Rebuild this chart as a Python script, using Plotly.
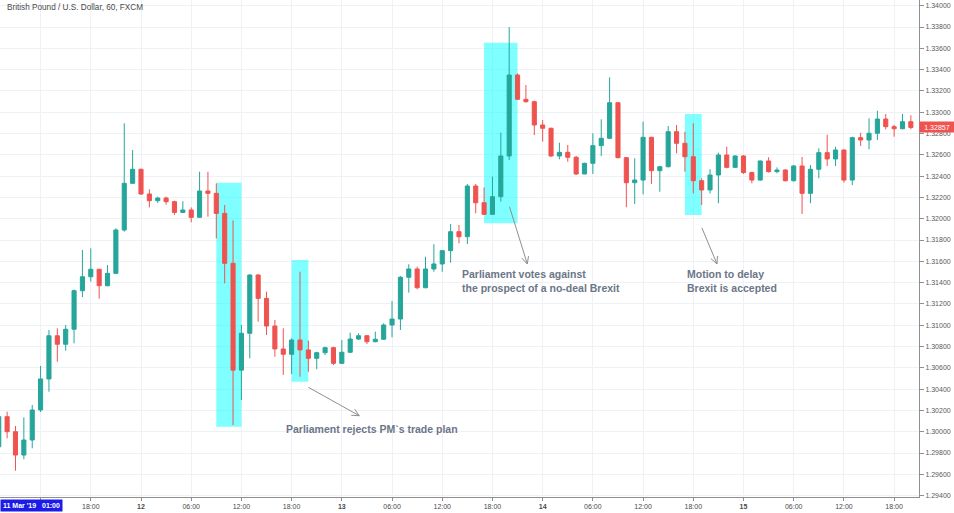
import plotly.graph_objects as go
import pandas as pd
import numpy as np

# ---------------- data (GBP/USD, 60-minute candles, FXCM) ----------------
first_candle = "2019-03-11 07:00"
opens = [1.29859, 1.30141, 1.30000, 1.29781, 1.29922, 1.30204, 1.30495, 1.30901, 1.30821, 1.30962,
         1.31324, 1.31455, 1.31525, 1.31371, 1.31487, 1.31894, 1.32332, 1.32464, 1.32232, 1.32169,
         1.32194, 1.32160, 1.32059, 1.32082, 1.32013, 1.32260, 1.32238, 1.32050, 1.31581, 1.30578,
         1.30924, 1.31471, 1.31252, 1.30992, 1.30777, 1.30727, 1.30861, 1.30768, 1.30689, 1.30742,
         1.30789, 1.30642, 1.30746, 1.30870, 1.30901, 1.30845, 1.30868, 1.31002, 1.31058, 1.31450,
         1.31528, 1.31352, 1.31528, 1.31575, 1.31700, 1.31878, 1.31831, 1.32307, 1.32150, 1.32041,
         1.32207, 1.32589, 1.33349, 1.33121, 1.33099, 1.32880, 1.32849, 1.32589, 1.32623, 1.32577,
         1.32420, 1.32520, 1.32686, 1.32755, 1.33089, 1.32573, 1.32338, 1.32363, 1.32764, 1.32451,
         1.32488, 1.32817, 1.32708, 1.32582, 1.32357, 1.32270, 1.32410, 1.32598, 1.32482, 1.32589,
         1.32433, 1.32363, 1.32542, 1.32442, 1.32457, 1.32357, 1.32495, 1.32238, 1.32464, 1.32620,
         1.32561, 1.32645, 1.32363, 1.32761, 1.32739, 1.32802, 1.32936, 1.32864, 1.32845, 1.32911]
highs = [1.30170, 1.30188, 1.30054, 1.30135, 1.30251, 1.30617, 1.30955, 1.30971, 1.31002, 1.31335,
         1.31706, 1.31722, 1.31530, 1.31565, 1.31910, 1.32896, 1.32645, 1.32470, 1.32276, 1.32207,
         1.32207, 1.32169, 1.32163, 1.32106, 1.32441, 1.32441, 1.32332, 1.32128, 1.31984, 1.31002,
         1.31480, 1.31480, 1.31315, 1.31049, 1.30971, 1.30877, 1.31502, 1.30855, 1.30751, 1.30798,
         1.30798, 1.30861, 1.30930, 1.30924, 1.30908, 1.30939, 1.31018, 1.31227, 1.31462, 1.31572,
         1.31549, 1.31643, 1.31760, 1.31706, 1.31950, 1.31941, 1.32326, 1.32326, 1.32294, 1.32395,
         1.32808, 1.33800, 1.33365, 1.33255, 1.33108, 1.32927, 1.32855, 1.32714, 1.32692, 1.32589,
         1.32526, 1.32802, 1.32933, 1.33328, 1.33095, 1.32580, 1.32567, 1.32911, 1.32770, 1.32495,
         1.32870, 1.32880, 1.32817, 1.32896, 1.32379, 1.32464, 1.32620, 1.32676, 1.32595, 1.32598,
         1.32442, 1.32545, 1.32577, 1.32482, 1.32464, 1.32504, 1.32580, 1.32504, 1.32661, 1.32789,
         1.32676, 1.32651, 1.32770, 1.32808, 1.32943, 1.33014, 1.32983, 1.32880, 1.32983, 1.32971]
lows = [1.29840, 1.29938, 1.29634, 1.29741, 1.29844, 1.30185, 1.30376, 1.30657, 1.30761, 1.30830,
        1.31264, 1.31409, 1.31249, 1.31365, 1.31480, 1.31878, 1.32332, 1.32225, 1.32106, 1.32147,
        1.32132, 1.32035, 1.32055, 1.31966, 1.32013, 1.32019, 1.31815, 1.31393, 1.30063, 1.30297,
        1.30689, 1.31033, 1.30908, 1.30704, 1.30533, 1.30542, 1.30516, 1.30563, 1.30586, 1.30720,
        1.30626, 1.30636, 1.30740, 1.30861, 1.30823, 1.30840, 1.30862, 1.30886, 1.30955, 1.31306,
        1.31337, 1.31346, 1.31502, 1.31502, 1.31587, 1.31768, 1.31762, 1.32051, 1.32035, 1.32035,
        1.32160, 1.32551, 1.33115, 1.33089, 1.32786, 1.32723, 1.32580, 1.32558, 1.32535, 1.32410,
        1.32417, 1.32420, 1.32589, 1.32748, 1.32567, 1.32107, 1.32138, 1.32229, 1.32326, 1.32253,
        1.32482, 1.32614, 1.32441, 1.32238, 1.32129, 1.32238, 1.32145, 1.32473, 1.32476, 1.32420,
        1.32332, 1.32355, 1.32433, 1.32426, 1.32348, 1.32348, 1.32044, 1.32145, 1.32379, 1.32495,
        1.32495, 1.32338, 1.32316, 1.32683, 1.32652, 1.32739, 1.32839, 1.32770, 1.32839, 1.32839]
closes = [1.30141, 1.30000, 1.29781, 1.29922, 1.30204, 1.30495, 1.30901, 1.30821, 1.30962, 1.31324,
          1.31455, 1.31525, 1.31371, 1.31487, 1.31894, 1.32332, 1.32464, 1.32232, 1.32169, 1.32194,
          1.32160, 1.32059, 1.32082, 1.32013, 1.32260, 1.32238, 1.32050, 1.31581, 1.30578, 1.30924,
          1.31471, 1.31252, 1.30992, 1.30777, 1.30727, 1.30861, 1.30768, 1.30689, 1.30742, 1.30789,
          1.30642, 1.30746, 1.30870, 1.30901, 1.30845, 1.30868, 1.31002, 1.31058, 1.31450, 1.31528,
          1.31352, 1.31528, 1.31575, 1.31700, 1.31878, 1.31831, 1.32307, 1.32150, 1.32041, 1.32207,
          1.32589, 1.33349, 1.33121, 1.33099, 1.32880, 1.32849, 1.32589, 1.32623, 1.32577, 1.32420,
          1.32520, 1.32686, 1.32755, 1.33089, 1.32573, 1.32338, 1.32363, 1.32764, 1.32451, 1.32488,
          1.32817, 1.32708, 1.32582, 1.32357, 1.32270, 1.32410, 1.32598, 1.32482, 1.32589, 1.32433,
          1.32363, 1.32542, 1.32442, 1.32457, 1.32357, 1.32495, 1.32238, 1.32464, 1.32620, 1.32561,
          1.32645, 1.32363, 1.32761, 1.32739, 1.32802, 1.32936, 1.32864, 1.32845, 1.32911, 1.32857]
times = pd.date_range(first_candle, periods=len(opens), freq="h")

title_text = "British Pound / U.S. Dollar, 60, FXCM"
cursor_label = "11 Mar '19&nbsp;&nbsp;&nbsp;01:00"

# highlighted event windows: (start, end, low price, high price)
event_boxes = [
    ("2019-03-12 09:00", "2019-03-12 12:00", 1.30047, 1.32338),
    ("2019-03-12 18:00", "2019-03-12 20:00", 1.30470, 1.31612),
    ("2019-03-13 17:00", "2019-03-13 21:00", 1.31957, 1.33653),
    ("2019-03-14 17:00", "2019-03-14 19:00", 1.32035, 1.32983),
]
# event notes: (anchor time, text, centre price)
event_notes = [
    ("2019-03-12 17:05", "Parliament rejects PM`s trade plan", 1.30021),
    ("2019-03-13 14:07", "Parliament votes against<br>the prospect of a no-deal Brexit", 1.31412),
    ("2019-03-14 17:00", "Motion to delay<br>Brexit is accepted", 1.31412),
]
# arrows: (from time, from price, to time, to price)
event_arrows = [
    ("2019-03-12 20:00", 1.30417, "2019-03-13 02:05", 1.30150),
    ("2019-03-13 20:02", 1.32113, "2019-03-13 22:10", 1.31575),
    ("2019-03-14 19:02", 1.31913, "2019-03-14 20:50", 1.31575),
]

# ---------------- layout geometry ----------------
W, H = 954, 513
PLOT_W, PLOT_H = 919, 497
PX_PER_HOUR = 8.368
PX_PER_PRICE = 10650.0
t_ref = pd.Timestamp("2019-03-12 00:00")
t0 = t_ref - pd.Timedelta(hours=141 / PX_PER_HOUR)
t1 = t0 + pd.Timedelta(hours=PLOT_W / PX_PER_HOUR)
y_top = 1.34 + 5.7 / PX_PER_PRICE
y_bot = y_top - PLOT_H / PX_PER_PRICE

def to_px(t, p):
    t = pd.Timestamp(t)
    return (t - t0) / pd.Timedelta(hours=1) * PX_PER_HOUR, (y_top - p) * PX_PER_PRICE

def to_data(x, y):
    return t0 + pd.Timedelta(hours=x / PX_PER_HOUR), y_top - y / PX_PER_PRICE

TEAL = "#26a69a"
RED = "#ef5350"
GRID = "#eef1f6"
AXIS = "#8f8f8f"
NOTE = "#6b7688"

fig = go.Figure(go.Candlestick(
    x=times, open=opens, high=highs, low=lows, close=closes,
    increasing=dict(line=dict(color=TEAL, width=1), fillcolor=TEAL),
    decreasing=dict(line=dict(color=RED, width=1), fillcolor=RED),
    whiskerwidth=0, hoverinfo="skip",
))

for (a, b, lo, hi) in event_boxes:
    fig.add_shape(type="rect", xref="x", yref="y", x0=a, x1=b, y0=lo, y1=hi,
                  fillcolor="rgba(0,255,255,0.5)", line=dict(width=0), layer="between")

for (t, txt, pr) in event_notes:
    fig.add_annotation(x=t, y=pr, xref="x", yref="y", text="<b>" + txt + "</b>",
                       showarrow=False, xanchor="left", yanchor="middle", align="left",
                       font=dict(family="Liberation Sans", size=10.5, color=NOTE))

for (ta, pa, tb, pb) in event_arrows:
    fig.add_shape(type="line", xref="x", yref="y", x0=ta, y0=pa, x1=tb, y1=pb,
                  line=dict(color=AXIS, width=1))
    xa, ya = to_px(ta, pa)
    xb, yb = to_px(tb, pb)
    ang = np.arctan2(yb - ya, xb - xa)
    for d in (0.45, -0.45):
        hx = xb - 8 * np.cos(ang + d)
        hy = yb - 8 * np.sin(ang + d)
        ht, hp = to_data(hx, hy)
        fig.add_shape(type="line", xref="x", yref="y", x0=ht, y0=hp, x1=tb, y1=pb,
                      line=dict(color=AXIS, width=1))

# x ticks every 6 hours
xticks = pd.date_range("2019-03-11 12:00", "2019-03-15 18:00", freq="6h")
xtext = []
for i, t in enumerate(xticks):
    if i == 0:
        xtext.append("")
    elif t.hour == 0:
        xtext.append("<b>%d</b>" % t.day)
    else:
        xtext.append(t.strftime("%H:%M"))

yticks = np.round(np.arange(1.294, 1.34001, 0.002), 3)

fig.update_layout(
    width=W, height=H,
    margin=dict(l=0, r=W - PLOT_W, t=0, b=H - PLOT_H, autoexpand=False),
    plot_bgcolor="white", paper_bgcolor="white",
    showlegend=False, hovermode=False,
    font=dict(family="Liberation Sans", color="#4a4a4a"),
    xaxis=dict(type="date", range=[t0, t1], tickvals=xticks, ticktext=xtext,
               tickfont=dict(size=7, color="#4a4a4a"), showgrid=True, gridcolor=GRID,
               showline=True, linecolor=AXIS, linewidth=1, ticks="outside", ticklen=3,
               tickcolor=AXIS, zeroline=False, rangeslider=dict(visible=False), fixedrange=True),
    yaxis=dict(side="right", range=[y_bot, y_top], tickvals=yticks, tickformat=".5f",
               tickfont=dict(size=7, color="#5a5a5a"), showgrid=True, gridcolor=GRID,
               showline=True, linecolor=AXIS, linewidth=1, ticks="outside", ticklen=4,
               tickcolor=AXIS, zeroline=False, fixedrange=True),
)

fig.add_annotation(xref="paper", yref="paper", x=0.005, y=1 - 8 / PLOT_H, text=title_text,
                   showarrow=False, xanchor="left", yanchor="middle",
                   font=dict(family="Liberation Sans", size=8.2, color="#4a4a4a"))

fig.add_annotation(xref="paper", yref="paper", x=0, y=-2 / PLOT_H, text="<b>" + cursor_label + "</b>",
                   showarrow=False, xanchor="left", yanchor="top", width=61, height=11,
                   bgcolor="#1c1ce8", borderpad=0,
                   font=dict(family="Liberation Sans", size=7, color="white"))

fig.add_annotation(xref="paper", yref="y", x=1, y=closes[-1], text="%.5f" % closes[-1],
                   showarrow=False, xanchor="left", yanchor="middle", width=34, height=10,
                   bgcolor=RED, borderpad=0,
                   font=dict(family="Liberation Sans", size=7, color="white"))

fig.write_html("out.html")
